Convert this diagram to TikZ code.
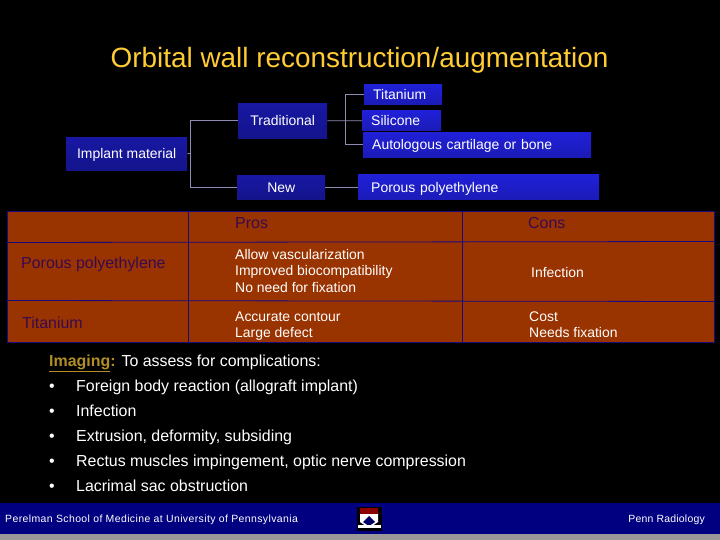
\documentclass[tikz,border=0pt]{standalone}
\usepackage{fontspec}
\setmainfont{Liberation Sans}
\usepackage{xcolor}
\usetikzlibrary{positioning}
\definecolor{slidegold}{HTML}{FFCC33}
\definecolor{boxblue}{HTML}{2020D8}
\definecolor{boxdark}{HTML}{14148C}
\definecolor{linegrey}{HTML}{8C8CB4}
\definecolor{tablerust}{HTML}{993300}
\definecolor{tableline}{HTML}{1A0A80}
\definecolor{headtext}{HTML}{3A0A50}
\definecolor{footnavy}{HTML}{000080}
\begin{document}
\begin{tikzpicture}[
    x=1bp, y=-1bp,
    box/.style={anchor=north west, inner sep=0pt, text=white, font=\fontsize{14}{16}\selectfont, text height=10bp, text depth=0pt, top color=boxdark!70!boxblue, bottom color=boxdark},
    leaf/.style={box, top color=boxblue, bottom color=boxblue!85!black, align=left, text width=#1},
    link/.style={draw=linegrey, line width=0.8pt},
    rule/.style={draw=tableline, line width=0.8pt},
    cell/.style={anchor=west, inner sep=0pt, align=left, text=white, font=\fontsize{14}{16.5}\selectfont},
    headcell/.style={cell, text=headtext, font=\fontsize{16}{18}\selectfont, text height=12bp, text depth=3.5bp},
    item/.style={anchor=west, inner sep=0pt, text=white, font=\fontsize{16}{18}\selectfont, text height=12bp, text depth=3.5bp}
]
\fill[black] (0,0) rectangle (720,540);
\node[anchor=center, inner sep=0pt, text=slidegold, font=\fontsize{28}{32}\selectfont, text height=20bp, text depth=6bp] (title) at (359.5,61) {Orbital wall reconstruction/augmentation};

\node[box, minimum width=121bp, minimum height=33bp] (implant) at (66,137) {Implant material};
\node[box, minimum width=89bp, minimum height=35bp] (traditional) at (238,103) {Traditional};
\node[box, minimum width=88bp, minimum height=24bp] (new) at (237,175) {New};
\node[leaf=78bp, minimum height=20bp] (titanium) at (364,84) {\hspace{9bp}Titanium};
\node[leaf=79bp, minimum height=20bp] (silicone) at (362,110.5) {\hspace{9bp}Silicone};
\node[leaf=228bp, minimum height=25bp] (autologous) at (363,132) {\hspace{9bp}Autologous cartilage or bone};
\node[leaf=241bp, minimum height=25bp] (porous) at (358,174.5) {\hspace{13bp}Porous polyethylene};
\coordinate (rootjoin) at (190.5,153.5);
\coordinate (tradjoin) at (345.5,120.5);
\draw[link] (implant.east) -- (rootjoin);
\draw[link] (traditional.west) -| (rootjoin) |- (new.west);
\draw[link] (traditional.east) -- (silicone.west);
\draw[link] (titanium.west) -| (tradjoin) |- (autologous.west);
\draw[link] (new.east) -- (porous.west);

\fill[tablerust] (7,211) rectangle (714,342);
\draw[rule] (7,211) rectangle (714,342);
\draw[rule] (7,242.5) -- (714,241.5);
\draw[rule] (7,300.5) -- (714,301.5);
\draw[rule] (188,211) -- (188,342);
\draw[rule] (462,211) -- (462,342);
\node[headcell] (hpros) at (235,224) {Pros};
\node[headcell] (hcons) at (528,224) {Cons};
\node[headcell] (rporous) at (21,264) {Porous polyethylene};
\node[headcell] (rtitanium) at (22,324) {Titanium};
\node[cell] (prosporous) at (235,271) {Allow vascularization\\Improved biocompatibility\\No need for fixation};
\node[cell] (consporous) at (531,272.5) {Infection};
\node[cell] (prostitanium) at (235,326) {Accurate contour\\Large defect};
\node[cell] (constitanium) at (529,324.5) {Cost\\Needs fixation};

\node[item] (imaging) at (49,362) {\textcolor{slidegold!70!black}{\underline{\textbf{Imaging}}\textbf{:}} To assess for complications:};
\foreach \name/\ypos/\txt in {
    foreign/387/Foreign body reaction (allograft implant),
    infection/412/Infection,
    extrusion/437/{Extrusion, deformity, subsiding},
    rectus/462/{Rectus muscles impingement, optic nerve compression},
    lacrimal/487/Lacrimal sac obstruction} {
  \node[item] (bul\name) at (49,\ypos) {•};
  \node[item] (\name) at (76,\ypos) {\txt};
}

\fill[footnavy] (0,503) rectangle (720,534);
\fill[black!40] (0,534) rectangle (720,540);
\node[anchor=west, inner sep=0pt, text=white, font=\addfontfeature{LetterSpace=3.8}\fontsize{10.5}{12}\selectfont] (school) at (5,520) {Perelman School of Medicine at University of Pennsylvania};
\node[anchor=east, inner sep=0pt, text=white, font=\addfontfeature{LetterSpace=2}\fontsize{10.5}{12}\selectfont] (dept) at (705,520) {Penn Radiology};

\fill[black] (357,507) rectangle (382,531);
\fill[red!55!black] (360,508) rectangle (378,514);
\fill[white] (360,514) -- (378,514) -- (378,522) -- (369,528) -- (360,522) -- cycle;
\fill[blue!40!black] (369,516) -- (375,522) -- (369,526) -- (363,522) -- cycle;
\fill[white] (358,525) rectangle (381,528);
\end{tikzpicture}
\end{document}
